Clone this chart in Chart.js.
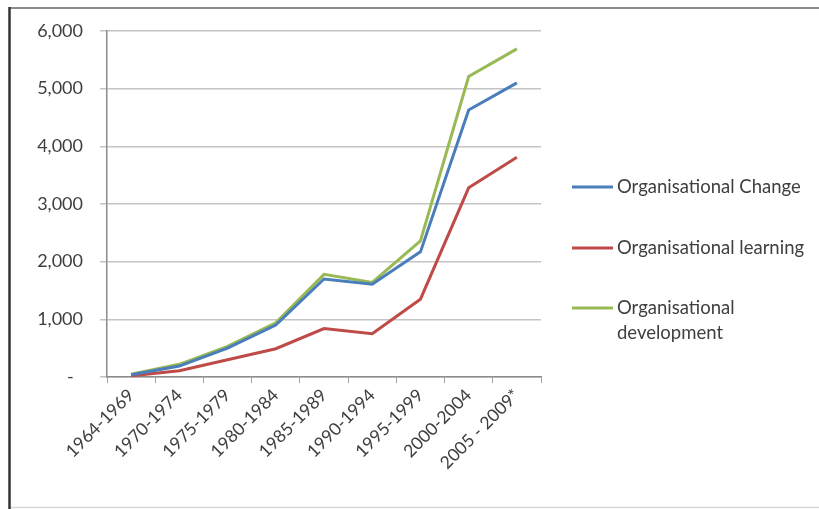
<!DOCTYPE html>
<html>
<head>
<meta charset="utf-8">
<script src="https://cdn.jsdelivr.net/npm/chart.js@4/dist/chart.umd.min.js"></script>
<style>
  html, body { margin: 0; padding: 0; background: #ffffff; }
  #wrap { width: 819px; height: 509px; position: relative; }
</style>
</head>
<body>
<div id="wrap"><canvas id="chart" width="819" height="509"></canvas></div>
<script>
// Publication counts per five-year period
const categories = ['1964-1969', '1970-1974', '1975-1979', '1980-1984', '1985-1989',
                    '1990-1994', '1995-1999', '2000-2004', '2005 - 2009*'];
const changeCounts      = [40, 190, 500, 900, 1700, 1610, 2170, 4630, 5100];
const learningCounts    = [20, 110, 300, 490, 840, 750, 1350, 3280, 3810];
const developmentCounts = [50, 220, 530, 940, 1780, 1640, 2360, 5210, 5690];
const seriesNames = ['Organisational Change', 'Organisational learning', 'Organisational development'];
// accounting-style labels: zero shown as a dash set in from the right edge
const yTickLabels = ['-  ', '1,000', '2,000', '3,000', '4,000', '5,000', '6,000'];

const FONT = 'Lato, "Open Sans", sans-serif';
const TEXT = '#3f3f3f';

// Frame round the whole chart and a white background
const framePlugin = {
  id: 'frame',
  beforeDraw(chart) {
    const ctx = chart.ctx;
    ctx.save();
    ctx.fillStyle = '#ffffff';
    ctx.fillRect(0, 0, chart.width, chart.height);
    ctx.strokeStyle = '#8c8c8c';
    ctx.lineWidth = 2;
    ctx.beginPath(); ctx.moveTo(9, 8); ctx.lineTo(chart.width, 8); ctx.stroke();
    ctx.strokeStyle = '#d8d8d8';
    ctx.lineWidth = 1.5;
    ctx.beginPath(); ctx.moveTo(9, 507.5); ctx.lineTo(chart.width, 507.5); ctx.stroke();
    ctx.strokeStyle = '#333333';
    ctx.lineWidth = 2.5;
    ctx.beginPath(); ctx.moveTo(9.5, 7); ctx.lineTo(9.5, chart.height); ctx.stroke();
    ctx.restore();
  }
};

// Legend to the right of the plot, with word-wrapped labels
const sideLegend = {
  id: 'sideLegend',
  afterDraw(chart) {
    const ctx = chart.ctx;
    const x0 = 572, x1 = 613, tx = 617, maxW = 195, lineH = 25;
    const rows = [187, 248, 308];
    ctx.save();
    ctx.font = '18.5px ' + FONT;
    ctx.textBaseline = 'middle';
    ctx.textAlign = 'left';
    chart.data.datasets.forEach((ds, i) => {
      const y = rows[i];
      ctx.strokeStyle = ds.borderColor;
      ctx.lineWidth = 3;
      ctx.beginPath(); ctx.moveTo(x0, y); ctx.lineTo(x1, y); ctx.stroke();
      const words = ds.label.split(' ');
      const lines = [];
      let cur = '';
      words.forEach(w => {
        const test = cur ? cur + ' ' + w : w;
        if (cur && ctx.measureText(test).width > maxW) { lines.push(cur); cur = w; }
        else cur = test;
      });
      lines.push(cur);
      ctx.fillStyle = TEXT;
      lines.forEach((ln, k) => ctx.fillText(ln, tx, y + k * lineH));
    });
    ctx.restore();
  }
};

const lineStyle = (label, data, color) => ({
  label, data,
  borderColor: color,
  backgroundColor: color,
  borderWidth: 3,
  pointRadius: 0,
  pointHoverRadius: 0,
  tension: 0,
  fill: false
});

new Chart(document.getElementById('chart'), {
  type: 'line',
  data: {
    labels: categories,
    datasets: [
      lineStyle(seriesNames[0], changeCounts, '#4a7ebb'),
      lineStyle(seriesNames[1], learningCounts, '#be4b48'),
      lineStyle(seriesNames[2], developmentCounts, '#98b954')
    ]
  },
  options: {
    responsive: false,
    animation: false,
    layout: { padding: { left: 0, top: 31, right: 278, bottom: 0 } },
    plugins: {
      legend: { display: false },
      tooltip: { enabled: false }
    },
    scales: {
      x: {
        offset: true,
        grid: {
          offset: true,
          drawOnChartArea: false,
          drawTicks: true,
          tickLength: 6,
          color: '#a6a6a6'
        },
        border: { color: '#8c8c8c', width: 1.5 },
        ticks: {
          minRotation: 45,
          maxRotation: 45,
          autoSkip: false,
          padding: 2,
          color: TEXT,
          font: { family: FONT, size: 17.5 }
        },
        afterFit(scale) { scale.height = 132; }
      },
      y: {
        min: 0,
        max: 6000,
        grid: {
          color: '#c4c4c4',
          lineWidth: 1.5,
          tickLength: 7
        },
        border: { color: '#8c8c8c', width: 1.5 },
        ticks: {
          stepSize: 1000,
          padding: 17,
          color: TEXT,
          font: { family: FONT, size: 18 },
          callback: (v, i) => yTickLabels[i]
        },
        afterFit(scale) { scale.width = 107; }
      }
    }
  },
  plugins: [framePlugin, sideLegend]
});
</script>
</body>
</html>
